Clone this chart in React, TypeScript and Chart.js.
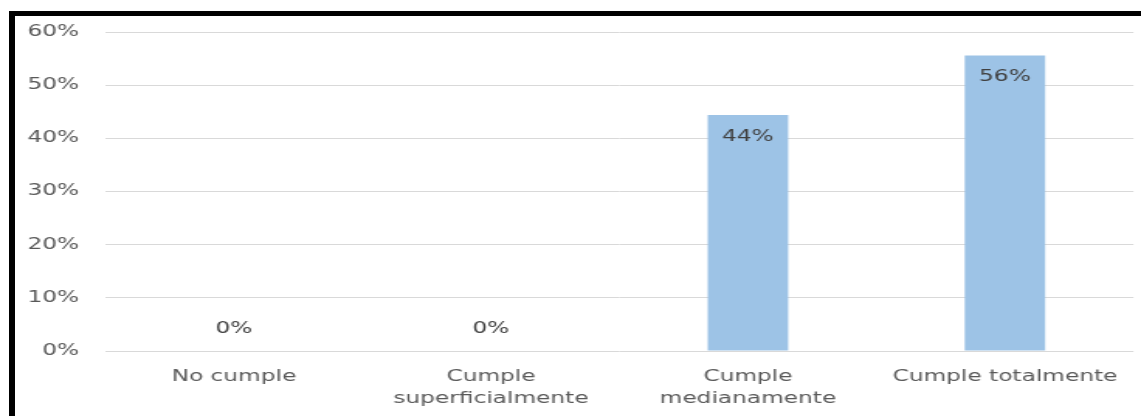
import React, { useEffect, useRef } from "react";
import { Chart, registerables } from "chart.js";

Chart.register(...registerables);

// ---- data ----
const categories: (string | string[])[] = [
  "No cumple",
  ["Cumple", "superficialmente"],
  ["Cumple", "medianamente"],
  "Cumple totalmente",
];
const values: number[] = [0, 0, 44.4, 55.6];
const yMin = 0;
const yMax = 60;
const yStep = 10;

// ---- layout ----
const PAGE_W = 1141;
const PAGE_H = 416;
const INNER_W = 736; // drawing width; stretched horizontally to page width
const FONT = "'DejaVu Sans', sans-serif";

const labelPlugin = {
  id: "valueLabels",
  afterDatasetsDraw(chart: any) {
    const ctx = chart.ctx;
    const meta = chart.getDatasetMeta(0);
    ctx.save();
    ctx.font = `15px ${FONT}`;
    ctx.fillStyle = "#404040";
    ctx.textAlign = "center";
    ctx.textBaseline = "middle";
    meta.data.forEach((bar: any, i: number) => {
      const v = values[i];
      const y = v > 0 ? bar.y + 22 : bar.y - 22;
      ctx.fillText(Math.round(v) + "%", bar.x, y);
    });
    ctx.restore();
  },
};

export default function App() {
  const ref = useRef<HTMLCanvasElement | null>(null);

  useEffect(() => {
    if (!ref.current) return;
    const chart = new Chart(ref.current, {
      type: "bar",
      data: {
        labels: categories,
        datasets: [
          {
            data: values,
            backgroundColor: "#9dc3e6",
            borderWidth: 0,
            barPercentage: 0.313,
            categoryPercentage: 1,
          },
        ],
      },
      plugins: [labelPlugin],
      options: {
        responsive: false,
        animation: false,
        devicePixelRatio: 1,
        layout: { padding: { top: 32, right: 2, bottom: 0, left: 0 } },
        plugins: {
          legend: { display: false },
          tooltip: { enabled: false },
        },
        scales: {
          x: {
            grid: { display: false, drawTicks: false },
            border: { display: false },
            ticks: {
              color: "#595959",
              padding: 15,
              maxRotation: 0,
              autoSkip: false,
              font: { family: FONT, size: 15, lineHeight: 22 / 15 },
            },
            afterFit: (scale: any) => {
              scale.height = 65;
            },
          },
          y: {
            min: yMin,
            max: yMax,
            grid: { color: "#d9d9d9", lineWidth: 1, drawTicks: false },
            border: { display: false },
            ticks: {
              stepSize: yStep,
              color: "#595959",
              padding: 17,
              font: { family: FONT, size: 15 },
              callback: (v: any) => v + "%",
            },
            afterFit: (scale: any) => {
              scale.width = 68;
            },
          },
        },
      },
    });
    return () => chart.destroy();
  }, []);

  return (
    <div
      style={{
        position: "fixed",
        left: 0,
        top: 0,
        width: PAGE_W,
        height: PAGE_H,
        background: "#ffffff",
        overflow: "hidden",
      }}
    >
      <canvas
        ref={ref}
        width={INNER_W}
        height={PAGE_H}
        style={{
          position: "absolute",
          left: 0,
          top: 0,
          width: PAGE_W + "px",
          height: PAGE_H + "px",
        }}
      />
      <div
        style={{
          position: "absolute",
          left: 9,
          top: 11,
          width: PAGE_W,
          height: PAGE_H,
          borderLeft: "6px solid #000",
          borderTop: "5px solid #000",
          boxSizing: "border-box",
          pointerEvents: "none",
        }}
      />
    </div>
  );
}
